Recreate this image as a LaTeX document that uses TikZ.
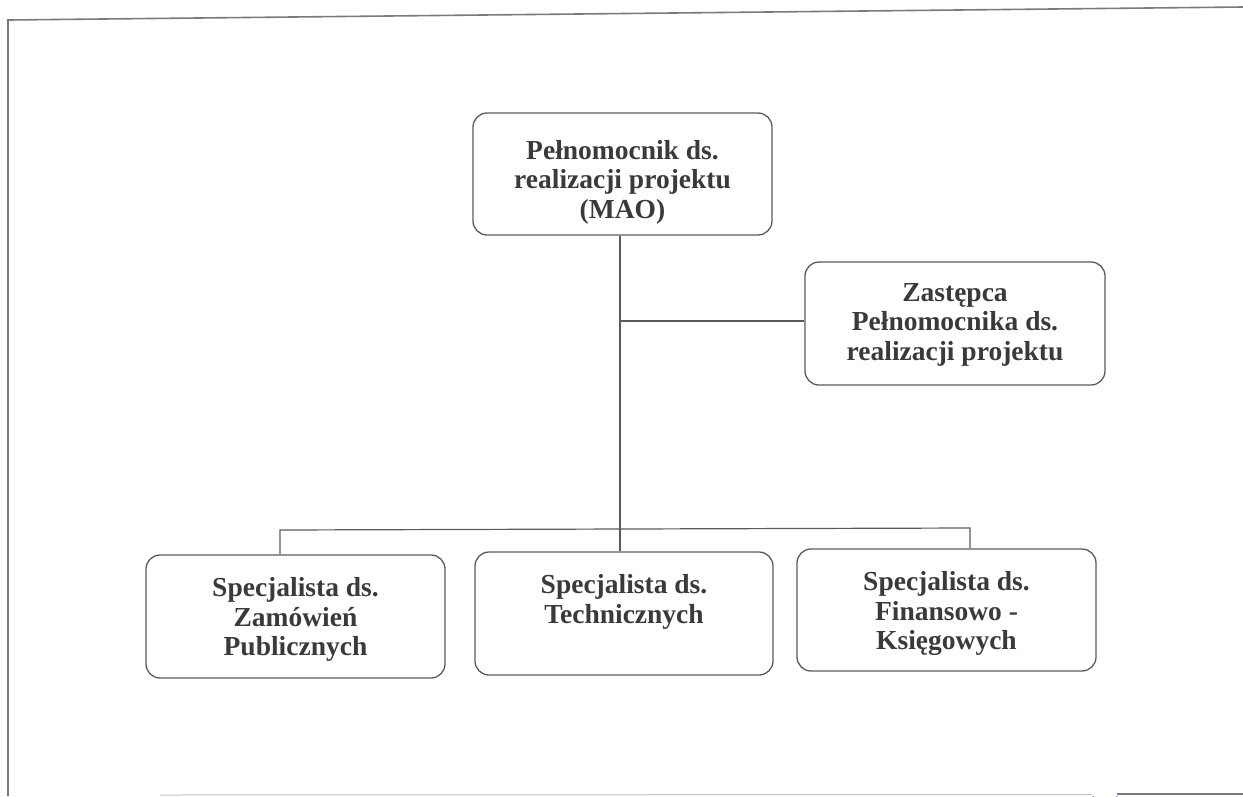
\documentclass[tikz,border=0pt]{standalone}
\usepackage{fontspec}
\setmainfont{Liberation Serif}
\definecolor{linegray}{HTML}{5A5A5A}
\definecolor{framegray}{HTML}{7A7A7A}
\definecolor{textgray}{HTML}{3A3A3A}
\definecolor{stampblue}{HTML}{8A8FD8}
\begin{document}
\begin{tikzpicture}[x=1pt,y=-1pt,
  orgbox/.style={draw=linegray, line width=1.3pt, rounded corners=14pt, inner sep=0pt},
  boxtxt/.style={align=center, text=textgray, inner sep=0pt,
    font=\bfseries\fontsize{27.5}{29.5}\selectfont},
  conn/.style={draw=linegray, line width=1.2pt},
  framel/.style={draw=framegray, line width=1.6pt}]
\useasboundingbox (0,0) rectangle (1243,796);
% frame of the scanned page
\draw[framel] (8,796) -- (8,20) -- (1243,7);
\draw[draw=framegray!45, line width=1pt] (160,795) -- (1092,794.5);
\draw[framel] (1117,794) -- (1243,794);
\draw[draw=stampblue, line width=1.4pt] (1093,796) arc[start angle=180, end angle=0, radius=12];
% boxes
\node[orgbox, minimum width=299pt, minimum height=122pt] (top) at (622.5,174) {};
\node[orgbox, minimum width=300pt, minimum height=123pt] (zas) at (955,323.5) {};
\node[orgbox, minimum width=299pt, minimum height=123pt] (lft) at (295.5,616.5) {};
\node[orgbox, minimum width=298pt, minimum height=123pt] (mid) at (624,613.5) {};
\node[orgbox, minimum width=299pt, minimum height=122pt] (rgt) at (946.5,610) {};
% texts
\node[boxtxt] (toptxt) at ([yshift=-8pt]top.center) {Pełnomocnik ds.\\realizacji projektu\\(MAO)};
\node[boxtxt] (zastxt) at ([yshift=-1pt]zas.center) {Zastępca\\Pełnomocnika ds.\\realizacji projektu};
\node[boxtxt, anchor=north] (lfttxt) at ([yshift=-23pt]lft.north) {Specjalista ds.\\Zamówień\\Publicznych};
\node[boxtxt, anchor=north] (midtxt) at ([yshift=-23pt]mid.north) {Specjalista ds.\\Technicznych};
\node[boxtxt, anchor=north] (rgttxt) at ([yshift=-23pt]rgt.north) {Specjalista ds.\\Finansowo -\\Księgowych};
% connectors
\coordinate (vx) at (620,0);
\coordinate (bj) at (620,321);
\coordinate (bl) at (280,530);
\coordinate (br) at (970,528);
\draw[conn] (top.south -| vx) -- (mid.north -| vx);
\draw[conn] (bj) -- (bj -| zas.west);
\draw[conn] (lft.north -| bl) -- (bl) -- (br) -- (rgt.north -| br);
\end{tikzpicture}
\end{document}
